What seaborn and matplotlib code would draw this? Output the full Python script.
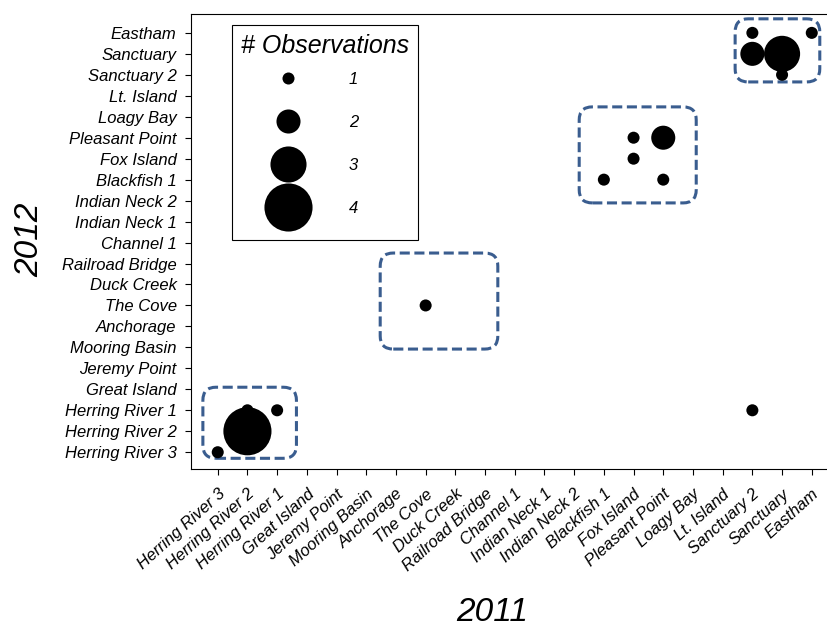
import numpy as np
import pandas as pd
import matplotlib.pyplot as plt
from matplotlib.patches import FancyBboxPatch
import seaborn as sns

# Sites, in axis order (bottom/left first)
sites = ['Herring River 3', 'Herring River 2', 'Herring River 1', 'Great Island',
         'Jeremy Point', 'Mooring Basin', 'Anchorage', 'The Cove', 'Duck Creek',
         'Railroad Bridge', 'Channel 1', 'Indian Neck 1', 'Indian Neck 2',
         'Blackfish 1', 'Fox Island', 'Pleasant Point', 'Loagy Bay', 'Lt. Island',
         'Sanctuary 2', 'Sanctuary', 'Eastham']

# Matched observations: site in 2011 -> site in 2012, number of observations
site_2011 = ['Herring River 3', 'Herring River 2', 'Herring River 2', 'Herring River 1',
             'The Cove', 'Blackfish 1', 'Fox Island', 'Fox Island',
             'Pleasant Point', 'Pleasant Point', 'Sanctuary 2', 'Sanctuary 2',
             'Sanctuary 2', 'Sanctuary', 'Sanctuary', 'Eastham']
site_2012 = ['Herring River 3', 'Herring River 2', 'Herring River 1', 'Herring River 1',
             'The Cove', 'Blackfish 1', 'Pleasant Point', 'Fox Island',
             'Pleasant Point', 'Blackfish 1', 'Eastham', 'Sanctuary',
             'Herring River 1', 'Sanctuary', 'Sanctuary 2', 'Eastham']
n_obs = [1, 4, 1, 1, 1, 1, 1, 1, 2, 1, 1, 2, 1, 3, 1, 1]

# Site groups outlined with dashed boxes (x0, x1, y0, y1 in category units)
groups = [(-0.50, 2.65, -0.29, 3.10),
          (5.47, 9.43, 4.92, 9.50),
          (12.17, 16.11, 11.89, 16.47),
          (17.42, 20.27, 17.66, 20.67)]

sns.set_theme(style='ticks')
plt.rcParams['font.family'] = ['Liberation Sans', 'DejaVu Sans']
plt.rcParams.update({'axes.linewidth': 0.8, 'text.color': 'black',
                     'axes.labelcolor': 'black', 'xtick.color': 'black',
                     'ytick.color': 'black', 'axes.edgecolor': 'black'})

df = pd.DataFrame({
    'x': pd.Categorical(site_2011, categories=sites).codes,
    'y': pd.Categorical(site_2012, categories=sites).codes,
    'n': n_obs,
})

fig = plt.figure(figsize=(8.28, 6.3), dpi=100)
ax = fig.add_axes([191 / 828, 1 - 469 / 630, 647.5 / 828, 455 / 630])

box_color = '#3a5d8f'
for x0, x1, y0, y1 in groups:
    ax.add_patch(FancyBboxPatch((x0, y0), x1 - x0, y1 - y0,
                                boxstyle='round,pad=0,rounding_size=0.44',
                                mutation_aspect=29.7 / 20.95,
                                fill=False, edgecolor=box_color, lw=2.2,
                                linestyle=(0, (3.3, 1.5)), zorder=1))

sizes = {1: 75, 2: 300, 3: 675, 4: 1200}
sns.scatterplot(data=df, x='x', y='y', size='n', sizes=sizes, color='black',
                linewidth=0, legend='full', ax=ax, zorder=3)

ax.set_xlim(-0.9, 20.9)
ax.set_ylim(-0.8, 20.9)
ax.set_xticks(range(len(sites)))
ax.set_xticklabels(sites, rotation=42, ha='right', rotation_mode='anchor',
                   fontsize=12, fontstyle='italic')
ax.set_yticks(range(len(sites)))
ax.set_yticklabels(sites, fontsize=12, fontstyle='italic')
ax.tick_params(axis='both', length=4.5, width=0.8, color='black')
ax.tick_params(axis='x', pad=8)
ax.tick_params(axis='y', pad=5.8)

ax.set_xlabel('2011', fontsize=24, fontstyle='italic')
ax.set_ylabel('2012', fontsize=24, fontstyle='italic')
ax.xaxis.set_label_coords(0.465, -0.281)
ax.yaxis.set_label_coords(-0.2255, 0.503)

handles, labels = ax.get_legend_handles_labels()
for h in handles:
    if hasattr(h, 'set_markerfacecolor'):
        h.set_markerfacecolor('black')
        h.set_markeredgecolor('black')
    else:
        h.set_color('black')
leg = ax.legend(handles, labels, title='# Observations', loc='upper left',
                bbox_to_anchor=(0.0633, 0.9758), borderaxespad=0,
                prop={'size': 11, 'style': 'italic'},
                title_fontproperties={'size': 18, 'style': 'italic'},
                borderpad=0.6, handlelength=6.13, handletextpad=0.93,
                handleheight=3.96, labelspacing=0.0, alignment='left',
                frameon=True, fancybox=False, framealpha=1, edgecolor='black')
leg.get_frame().set_linewidth(0.8)
for t in leg.get_texts():
    t.set_fontsize(12)
# drop the markers a little so they sit level with their labels
for h in leg.legend_handles:
    if hasattr(h, 'get_ydata'):
        h.set_ydata(np.asarray(h.get_ydata()) - 5)

fig.savefig('out.png', dpi=100)
